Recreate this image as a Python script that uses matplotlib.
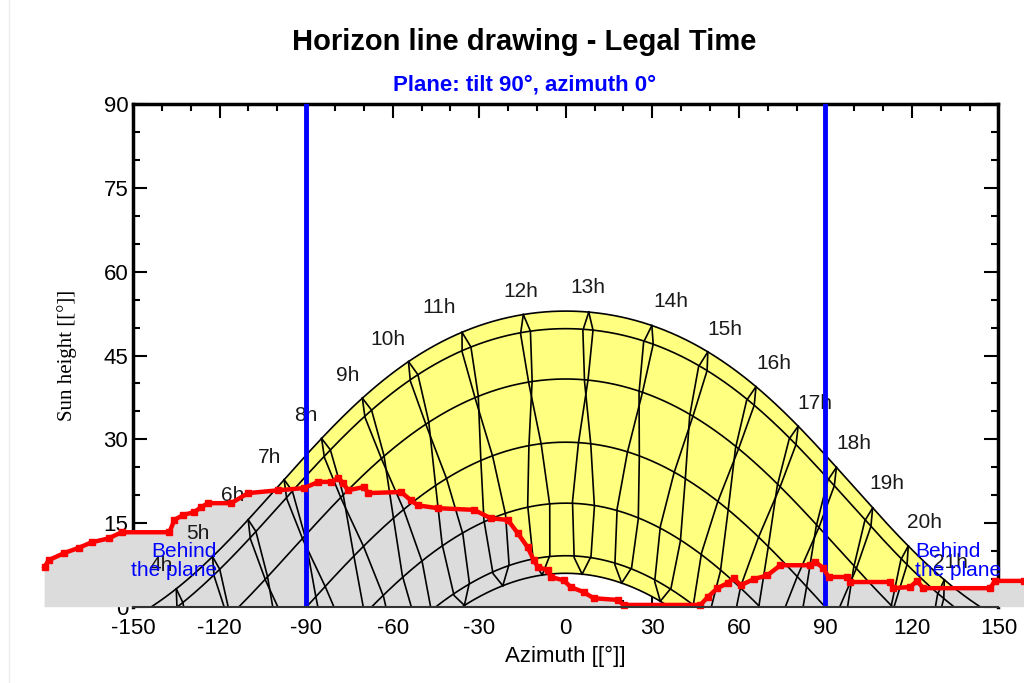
import numpy as np
import matplotlib
matplotlib.use('Agg')
import matplotlib.pyplot as plt
from matplotlib.lines import Line2D

plt.rcParams['font.family'] = ['Liberation Sans', 'DejaVu Sans']
plt.rcParams['axes.unicode_minus'] = False

# site and clock
latitude = 60.5
time_shift = 0.62  # legal time minus mean solar time [h]

# date curves: 22 Jun, 22 May/23 Jul, 20 Apr/23 Aug, 20 Mar/23 Sep,
# 21 Feb/23 Oct, 19 Jan/22 Nov, 22 Dec
curve_decl = [23.44, 20.3, 11.3, 0.0, -10.9, -20.3, -23.44]

# hour lines, the two halves of the year (declination, equation of time in min)
branch1_decl = [-23.44, -20.6, -10.6, -0.1, 11.4, 20.3, 23.44]
branch1_eot = [1.8, -10.5, -13.8, -7.5, 1.1, 3.3, -1.8]
branch2_decl = [23.44, 20.1, 11.0, -0.1, -11.1, -20.1, -23.44]
branch2_eot = [-1.8, -6.4, -2.6, 7.5, 15.7, 14.0, 1.8]
hours = list(range(3, 23))

hour_labels = ['4h', '5h', '6h', '7h', '8h', '9h', '10h', '11h', '12h',
               '13h', '14h', '15h', '16h', '17h', '18h', '19h', '20h', '21h']
hour_label_az = [-140.2, -127.4, -115.6, -102.8, -90.0, -75.5, -61.6, -44.0, -15.6,
                 7.6, 36.3, 55.0, 72.0, 86.5, 100.0, 111.5, 124.3, 133.3]
hour_label_alt = [7.5, 13.2, 20.0, 26.8, 34.3, 41.5, 47.8, 53.5, 56.4,
                  57.2, 54.6, 49.6, 43.5, 36.5, 29.3, 22.2, 15.2, 8.0]

# horizon profile
horizon_az = [-180.7, -179.3, -173.8, -168.9, -164.4, -158.5, -154.0, -137.4, -135.7,
              -132.6, -128.8, -126.4, -123.9, -116.0, -110.1, -99.7, -90.7, -85.8,
              -81.3, -78.9, -77.2, -75.5, -69.9, -68.5, -57.1, -53.7, -51.2, -44.3,
              -31.8, -26.0, -20.1, -16.6, -13.2, -11.1, -9.7, -6.2, -5.2, -0.7, 1.7,
              6.2, 9.7, 18.0, 20.1, 46.7, 49.2, 52.6, 56.1, 58.2, 60.6, 65.1, 69.9,
              74.4, 84.8, 86.5, 89.3, 91.1, 97.6, 98.6, 112.5, 113.5, 119.4, 121.8,
              123.9, 147.1, 148.8, 158.9, 180.0]
horizon_alt = [7.2, 8.4, 9.7, 10.6, 11.6, 12.3, 13.4, 13.4, 15.6,
               16.5, 17.0, 17.9, 18.6, 18.6, 20.4, 20.9, 21.3, 22.4,
               22.4, 23.1, 22.2, 20.9, 21.5, 20.4, 20.6, 19.1, 18.2, 17.7,
               17.4, 15.9, 15.6, 13.2, 10.7, 8.4, 7.2, 6.6, 5.4, 4.8, 3.6,
               2.7, 1.6, 1.3, 0.4, 0.4, 1.8, 3.4, 4.3, 5.2, 3.9, 5.0, 5.7,
               7.5, 7.5, 8.1, 7.0, 5.4, 5.4, 4.5, 4.5, 3.4, 3.6, 4.7,
               3.4, 3.4, 4.7, 4.7, 4.7]


def sun_pos(decl, hour_angle):
    phi = np.radians(latitude)
    d = np.radians(decl)
    h = np.radians(hour_angle)
    sin_alt = np.sin(phi) * np.sin(d) + np.cos(phi) * np.cos(d) * np.cos(h)
    alt = np.degrees(np.arcsin(sin_alt))
    az = np.degrees(np.arctan2(np.sin(h) * np.cos(d),
                               np.cos(h) * np.cos(d) * np.sin(phi) - np.sin(d) * np.cos(phi)))
    return az, alt


fig = plt.figure(figsize=(10.24, 6.83), dpi=100)
ax = fig.add_axes([0.130, 0.111, 0.845, 0.737])
ax.set_xlim(-150, 150)
ax.set_ylim(0, 90)

# yellow band between the solstices
H = np.linspace(-179.9, 179.9, 1441)
az_grid = np.linspace(-180, 180, 1441)
az_s, alt_s = sun_pos(max(curve_decl), H)
az_w, alt_w = sun_pos(min(curve_decl), H)
top = np.interp(az_grid, az_s, np.clip(alt_s, 0, None))
bot = np.interp(az_grid, az_w, np.clip(alt_w, 0, None))
ax.fill_between(az_grid, bot, top, where=top > bot, color='#ffff80', lw=0, zorder=2)

# horizon (drawn beyond the frame)
ax.fill_between(horizon_az, 0, horizon_alt, color='#dcdcdc', lw=0, zorder=3, clip_on=False)

# date curves
for d in curve_decl:
    a, h = sun_pos(d, H)
    ax.plot(a, h, color='black', lw=1.2, zorder=4)

# hour lines
for hr in hours:
    for decl, eot in ((branch1_decl, branch1_eot), (branch2_decl, branch2_eot)):
        ha = [15 * (hr - time_shift + e / 60 - 12) for e in eot]
        a, h = sun_pos(np.array(decl), np.array(ha))
        ax.plot(a, h, color='black', lw=1.2, zorder=4)

for lab, x, y in zip(hour_labels, hour_label_az, hour_label_alt):
    ax.text(x, y, lab, fontsize=15, color='#1a1a1a', ha='center', va='center', zorder=5)

ax.axvline(-90, color='#0000ff', lw=3.5, zorder=5.5)
ax.axvline(90, color='#0000ff', lw=3.5, zorder=5.5)

ax.plot(horizon_az, horizon_alt, color='#ff0000', lw=3.2, marker='s', ms=5,
        zorder=6, clip_on=False)

ax.text(-121, 8.2, 'Behind\nthe plane', color='#0000ff', fontsize=15, ha='right',
        va='center', multialignment='right', linespacing=1.0, zorder=8)
ax.text(121, 8.2, 'Behind\nthe plane', color='#0000ff', fontsize=15, ha='left',
        va='center', multialignment='left', linespacing=1.0, zorder=8, clip_on=False)

# frame
for side in ['left', 'top', 'right']:
    ax.spines[side].set_linewidth(2.5)
ax.spines['bottom'].set_linewidth(1.5)
ax.spines['bottom'].set_color('#333333')
ax.spines['bottom'].set_zorder(7)

ax.set_xticks(np.arange(-150, 151, 30))
ax.set_xticks(np.arange(-150, 151, 10), minor=True)
ax.set_yticks(np.arange(0, 91, 15))
ax.set_yticks(np.arange(0, 91, 5), minor=True)
ax.tick_params(which='both', direction='in', top=True, right=True, width=1.5,
               labelsize=16, colors='black')
ax.tick_params(which='major', length=10)
ax.tick_params(which='minor', length=5)
ax.tick_params(axis='x', pad=8)

ax.set_xlabel('Azimuth [[°]]', fontsize=16, labelpad=5)
ax.set_ylabel('Sun height [[°]]', fontsize=15, family=['Liberation Serif', 'DejaVu Serif'],
              labelpad=19)

fig.text(0.512, 0.938, 'Horizon line drawing - Legal Time', fontsize=21, fontweight='bold',
         ha='center', va='center')
fig.text(0.512, 0.875, 'Plane: tilt 90°, azimuth 0°', fontsize=16, fontweight='bold',
         color='#0000ff', ha='center', va='center')

fig.add_artist(Line2D([0.009, 0.009], [0, 1], color='#ececec', lw=1))

fig.savefig('out.png', dpi=100)
